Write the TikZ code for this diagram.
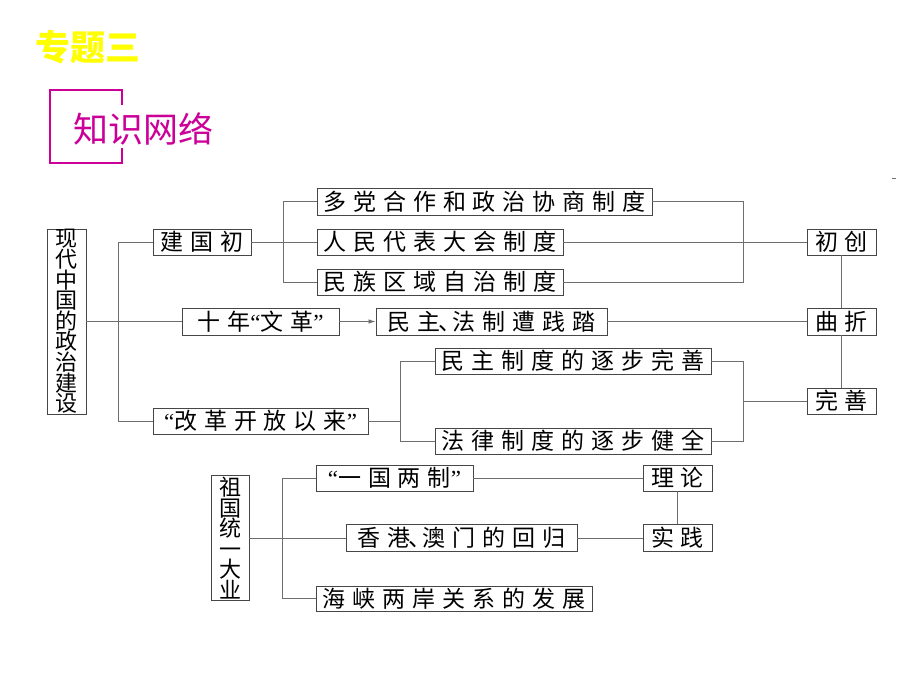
\documentclass[tikz,border=0pt]{standalone}
\usepackage{fontspec}
\usetikzlibrary{arrows.meta}
\newfontfamily\cjk{Noto Sans CJK SC}
\newfontfamily\cjkbox[LetterSpace=30]{Noto Sans CJK SC}
\newfontfamily\qfont{Liberation Serif}
\newcommand\qopen{{\qfont “}}
\newcommand\qclose{{\qfont ”}}
\newcommand\dun{\hspace{-2pt}{\cjk 、}\hspace{-9pt}}
\definecolor{boxc}{RGB}{70,70,70}
\definecolor{linec}{RGB}{110,110,110}
\definecolor{mag}{RGB}{204,0,153}
\definecolor{ttl}{RGB}{255,255,0}
\tikzset{
  bx/.style={draw=boxc, line width=0.9pt, inner sep=0pt, minimum height=26pt, text=black,
    font=\cjkbox\fontsize{23}{24}\selectfont},
  vbx/.style={draw=boxc, line width=0.9pt, inner sep=0pt, align=center, text=black,
    font=\cjk\fontsize{22}{20.6}\selectfont},
  ln/.style={draw=linec, line width=0.8pt},
}
\begin{document}
\begin{tikzpicture}[x=1pt,y=-1pt]
\useasboundingbox[fill=white] (0,0) rectangle (920,690);
% titles
\node[text=ttl, font=\cjk\bfseries\fontsize{35}{36}\selectfont] (t1) at (88,47) {专题三};
\draw[mag, line width=1.6pt] (122,105) -- (122,90) -- (50,90) -- (50,163) -- (122,163) -- (122,148);
\node[text=mag, font=\cjk\fontsize{35}{36}\selectfont] (t2) at (143,129) {知识网络};
% nodes
\node[vbx, minimum width=39pt, minimum height=185pt] (L1) at (66.5,321.5) {现\\代\\中\\国\\的\\政\\治\\建\\设};
\node[bx, minimum width=98pt] (jg) at (202,242) {建国初};
\node[bx, minimum width=157pt, minimum height=27pt] (sn) at (260.5,321.5) {十年\qopen 文革\qclose};
\node[bx, minimum width=215pt] (gg) at (260.5,421) {\qopen 改革开放以来\qclose};
\node[bx, minimum width=335pt, minimum height=27pt] (dd) at (484.5,201.5) {多党合作和政治协商制度};
\node[bx, minimum width=246pt] (rd) at (440,242) {人民代表大会制度};
\node[bx, minimum width=246pt] (mz) at (440,282) {民族区域自治制度};
\node[bx, minimum width=69pt] (cc) at (841.5,242) {初创};
\node[bx, minimum width=69pt, minimum height=27pt] (qz) at (841.5,321.5) {曲折};
\node[bx, minimum width=69pt] (ws) at (841.5,401) {完善};
\node[bx, minimum width=231pt, minimum height=27pt] (jt) at (491.5,321.5) {民主\dun 法制遭践踏};
\node[bx, minimum width=276pt] (mw) at (573,361) {民主制度的逐步完善};
\node[bx, minimum width=276pt] (fj) at (573,441) {法律制度的逐步健全};
\node[vbx, minimum width=38pt, minimum height=125pt] (L2) at (230,538) {祖\\国\\统\\一\\大\\业};
\node[bx, minimum width=157pt] (yg) at (394.5,478) {\qopen 一国两制\qclose};
\node[bx, minimum width=231pt, minimum height=27pt] (xg) at (461.5,538) {香港\dun 澳门的回归};
\node[bx, minimum width=276pt, minimum height=25pt] (hx) at (454,598.5) {海峡两岸关系的发展};
\node[bx, minimum width=69pt] (ll) at (677.5,478) {理论};
\node[bx, minimum width=69pt, minimum height=27pt] (sj) at (677.5,538) {实践};
% junction coordinates
\coordinate (v1) at (118,321.5);
\coordinate (v2) at (283,242);
\coordinate (v3) at (743,242);
\coordinate (v4) at (400,421);
\coordinate (v5) at (743,401);
\coordinate (v6) at (282,538);
% connectors
\draw[ln] (L1.east) -- (sn.west);
\draw[ln] (jg.west) -- (jg.west -| v1) -- (gg.west -| v1) -- (gg.west);
\draw[ln] (jg.east) -- (rd.west);
\draw[ln] (dd.west) -- (dd.west -| v2) -- (mz.west -| v2) -- (mz.west);
\draw[ln] (dd.east) -- (dd.east -| v3) -- (mz.east -| v3) -- (mz.east);
\draw[ln] (rd.east) -- (cc.west);
\draw[ln, -{Latex[length=7pt,width=4.5pt]}] (sn.east) -- (jt.west);
\draw[ln] (jt.east) -- (qz.west);
\draw[ln] (cc.south) -- (qz.north);
\draw[ln] (qz.south) -- (ws.north);
\draw[ln] (gg.east) -- (v4);
\draw[ln] (mw.west) -- (mw.west -| v4) -- (fj.west -| v4) -- (fj.west);
\draw[ln] (mw.east) -- (mw.east -| v5) -- (fj.east -| v5) -- (fj.east);
\draw[ln] (v5) -- (ws.west);
\draw[ln] (L2.east) -- (xg.west);
\draw[ln] (yg.west) -- (yg.west -| v6) -- (hx.west -| v6) -- (hx.west);
\draw[ln] (yg.east) -- (ll.west);
\draw[ln] (xg.east) -- (sj.west);
\draw[ln] (ll.south) -- (sj.north);
\coordinate (m1) at (892,178);
\coordinate (m2) at (896,178);
\draw[ln] (m1) -- (m2);
\end{tikzpicture}
\end{document}
